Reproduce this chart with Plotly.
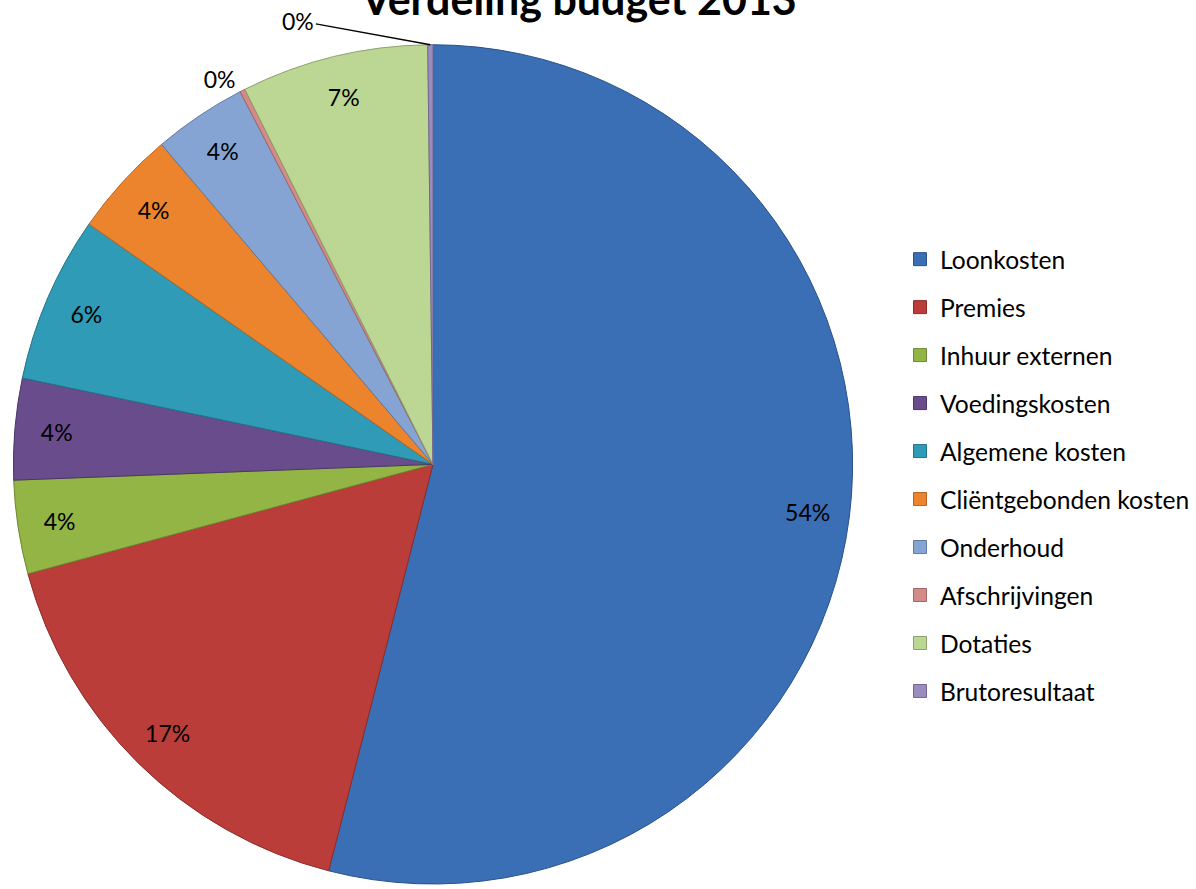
import math
import plotly.graph_objects as go

# ---- data ----
categories = ["Loonkosten", "Premies", "Inhuur externen", "Voedingskosten",
              "Algemene kosten", "Cliëntgebonden kosten", "Onderhoud",
              "Afschrijvingen", "Dotaties", "Brutoresultaat"]
values = [54.0, 16.8, 3.6, 3.9, 6.4, 4.1, 3.6, 0.2, 7.2, 0.2]
colors = ["#3A6EB5", "#BA3D3A", "#93B545", "#694C8C", "#2F9BB7",
          "#EC842D", "#86A4D3", "#D38B88", "#BCD693", "#9A8CBE"]
edge_colors = ["#2A5288", "#8C2C2A", "#6C8832", "#4C3668", "#227388",
               "#B56320", "#6079A0", "#A06866", "#8DA26C", "#73688F"]
title_text = "Verdeling budget 2013"

FONT = "Lato"
W, H = 1196, 889

fig = go.Figure()

pie_domain = dict(x=[11 / W, 855 / W], y=[0, 1 - 45 / H])

# coloured slices
fig.add_trace(go.Pie(
    labels=categories, values=values, sort=False, direction="clockwise",
    rotation=0, domain=pie_domain, textinfo="none", showlegend=False,
    marker=dict(colors=colors, line=dict(color=edge_colors, width=1)),
    hoverinfo="label+percent",
))

# the last (tiny) slice gets its label with a leader line, like the original
n = len(values)
positions = []
for i, v in enumerate(values):
    if i == n - 1:
        positions.append("none")
    elif v < 1:
        positions.append("outside")
    else:
        positions.append("inside")

# percentage labels placed in an outer ring (transparent)
fig.add_trace(go.Pie(
    labels=categories, values=values, sort=False, direction="clockwise",
    rotation=0, domain=pie_domain, hole=0.8, showlegend=False,
    marker=dict(colors=["rgba(0,0,0,0)"] * n, line=dict(width=0)),
    texttemplate="%{percent:.0%}",
    textposition=positions,
    insidetextorientation="horizontal",
    textfont=dict(family=FONT, size=23, color="black"),
    hoverinfo="skip",
))

# leader-line label for the last slice, anchored on its rim position
total = sum(values)
mid = (sum(values[:-1]) + values[-1] / 2) / total
theta = 2 * math.pi * mid
cx = (pie_domain["x"][0] + pie_domain["x"][1]) / 2
cy = (pie_domain["y"][0] + pie_domain["y"][1]) / 2
r_px = min((pie_domain["x"][1] - pie_domain["x"][0]) * W,
           (pie_domain["y"][1] - pie_domain["y"][0]) * H) / 2
tip_x = cx + r_px * math.sin(theta) / W
tip_y = cy + r_px * math.cos(theta) / H
fig.add_annotation(
    x=tip_x, y=tip_y, xref="paper", yref="paper",
    text=f"{round(values[-1] / total * 100)}%",
    showarrow=True, arrowhead=0, arrowwidth=1.3, arrowcolor="black",
    ax=-132, ay=-24, standoff=0,
    font=dict(family=FONT, size=23, color="black"),
)

# legend entries
for name, c, ec in zip(categories, colors, edge_colors):
    fig.add_trace(go.Scatter(
        x=[None], y=[None], mode="markers", name=name, legendgroup=name,
        marker=dict(symbol="square", size=13, color=c, line=dict(color=ec, width=1)),
        hoverinfo="skip",
    ))

fig.update_layout(
    width=W, height=H,
    margin=dict(l=0, r=0, t=0, b=0),
    paper_bgcolor="white", plot_bgcolor="white",
    title=dict(text=title_text, x=579 / W, xanchor="center",
               y=1.0, yanchor="middle",
               font=dict(family=FONT, size=43, color="black", weight="bold")),
    xaxis=dict(visible=False), yaxis=dict(visible=False),
    legend=dict(x=900 / W, xanchor="left", y=1 - 238 / H, yanchor="top",
                traceorder="grouped", tracegroupgap=13, itemsizing="trace",
                font=dict(family=FONT, size=24.6, color="black"),
                bgcolor="rgba(0,0,0,0)"),
    showlegend=True,
)

fig.write_html("out.html")
